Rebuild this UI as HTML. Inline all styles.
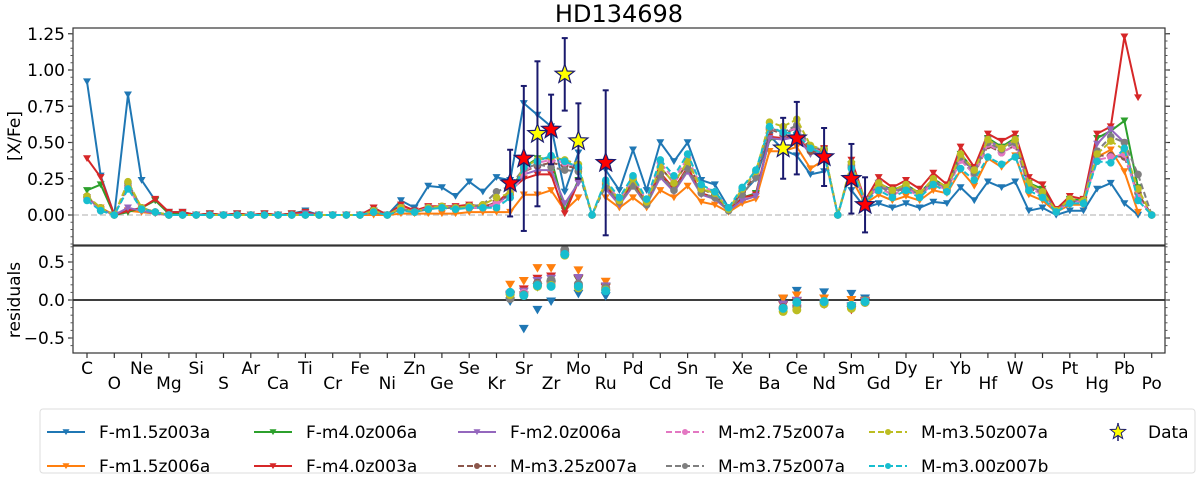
<!DOCTYPE html>
<html><head><meta charset="utf-8"><style>
html,body{margin:0;padding:0;background:#fff;}
svg{display:block;font-family:"DejaVu Sans","Liberation Sans",sans-serif;}
</style></head><body>
<svg id="chart" width="1200" height="478" viewBox="0 0 1200 478" xmlns="http://www.w3.org/2000/svg">
<text x="619" y="22" font-size="24" text-anchor="middle" fill="#000">HD134698</text>
<text transform="translate(20,136) rotate(-90)" font-size="17" text-anchor="middle">[X/Fe]</text>
<text transform="translate(20,300) rotate(-90)" font-size="17" text-anchor="middle">residuals</text>
<g id="top"></g>
<g id="bot"></g>
<g id="legend"></g>
</svg>
<script>
const elements = ["C","N","O","F","Ne","Na","Mg","Al","Si","P","S","Cl","Ar","K","Ca","Sc","Ti","V","Cr","Mn","Fe","Co","Ni","Cu","Zn","Ga","Ge","As","Se","Br","Kr","Rb","Sr","Y","Zr","Nb","Mo","Tc","Ru","Rh","Pd","Ag","Cd","In","Sn","Sb","Te","I","Xe","Cs","Ba","La","Ce","Pr","Nd","Pm","Sm","Eu","Gd","Tb","Dy","Ho","Er","Tm","Yb","Lu","Hf","Ta","W","Re","Os","Ir","Pt","Au","Hg","Tl","Pb","Bi","Po"];
const zStart = 6;
const seriesNames = ["F-m1.5z003a","F-m1.5z006a","F-m4.0z006a","F-m4.0z003a","F-m2.0z006a","M-m3.25z007a","M-m2.75z007a","M-m3.75z007a","M-m3.50z007a","M-m3.00z007b"];
const sBlue = [.92,.27,0,.83,.24,.10,.02,.02,0,.01, 0,.01,0,.01,0,.01,.03,0,0,0, 0,.05,0,.10,.05,.20,.19,.13,.23,.16, .26,.24,.77,.69,.61,.16,.43,null,.31,.17, .45,.17,.50,.37,.50,.24,.21,.05,.15,.25, .55,.45,.41,.28,.30,null,.17,.05,.08,.05, .08,.05,.09,.08,.19,.10,.23,.19,.23,.03, .05,0,.03,.03,.18,.22,.08,0,null];
const sOrange = [.12,.05,0,.03,.02,.01,0,0,0,0, 0,0,0,0,0,0,0,0,0,0, 0,0,0,.01,.01,.01,.01,.01,.02,.02, .02,.02,.14,.14,.17,.03,.12,null,.12,.05, .12,.05,.17,.12,.20,.09,.07,.02,.08,.11, .44,.44,.47,.32,.38,null,.25,.08,.14,.10, .13,.10,.17,.15,.31,.20,.39,.33,.41,.14, .10,.02,.07,.07,.40,.45,.30,.02,null];
const sGreen = [.17,.21,0,.02,.05,.10,.01,.01,0,.01, 0,.01,0,.01,0,.01,.02,0,0,0, 0,.03,0,.05,.02,.05,.05,.05,.06,.05, .08,.16,.33,.39,.39,.03,.24,null,.19,.08, .22,.07,.28,.18,.32,.15,.12,.03,.12,.15, .52,.53,.55,.42,.45,null,.35,.09,.22,.17, .21,.15,.25,.19,.42,.31,.53,.47,.53,.22, .18,.03,.11,.10,.53,.58,.65,.19,null];
const sRed = [.39,.26,0,.03,.05,.11,.02,.02,0,.01, 0,.01,0,.01,0,.01,.02,0,0,0, 0,.05,0,.07,.03,.06,.06,.06,.07,.06, .08,.17,.25,.28,.28,.01,.23,null,.20,.08, .22,.07,.29,.18,.33,.15,.12,.03,.12,.14, .54,.53,.55,.43,.46,null,.38,.10,.26,.19, .24,.18,.29,.21,.47,.33,.56,.51,.56,.26, .21,.04,.13,.11,.56,.61,1.23,.81,null];
const sPurple = [.12,.04,0,.05,.03,.01,0,0,0,0, 0,0,0,0,0,0,.01,0,0,0, 0,.02,0,.04,.02,.05,.05,.05,.05,.05, .07,.15,.28,.31,.31,.08,.22,null,.18,.07, .20,.07,.26,.16,.30,.14,.11,.03,.10,.13, .53,.52,.54,.42,.44,null,.33,.09,.22,.16, .20,.14,.24,.18,.40,.30,.52,.46,.52,.20, .16,.03,.10,.09,.49,.59,.50,.10,null];
const sBrown = [.12,.04,0,.20,.05,.02,0,0,0,0, 0,0,0,0,0,0,0,0,0,0, 0,.02,0,.04,.02,.05,.05,.05,.05,.05, .09,.14,.30,.34,.36,.34,.32,0,.22,.10, .24,.09,.33,.22,.36,.18,.14,.04,.16,.27, .59,.56,.60,.44,.43,0,.33,.10,.19,.14, .18,.13,.22,.17,.38,.28,.48,.43,.48,.19, .14,.02,.09,.09,.41,.41,.40,.15,0];
const sPink = [.11,.03,0,.19,.04,.02,0,0,0,0, 0,0,0,0,0,0,0,0,0,0, 0,.02,0,.05,.02,.05,.06,.05,.05,.05, .08,.12,.30,.36,.38,.36,.33,0,.23,.10, .26,.10,.36,.25,.39,.20,.16,.04,.18,.29, .60,.57,.60,.46,.43,0,.34,.10,.19,.14, .18,.13,.22,.17,.38,.28,.49,.43,.48,.19, .14,.02,.09,.09,.38,.40,.42,.12,0];
const sGray = [.13,.05,0,.22,.05,.02,0,0,0,0, 0,0,0,0,0,0,0,0,0,0, 0,.02,0,.04,.02,.04,.05,.05,.06,.07, .16,.20,.32,.35,.33,.31,.30,0,.20,.09, .20,.07,.28,.17,.32,.15,.12,.03,.14,.26, .60,.57,.62,.47,.45,0,.34,.10,.20,.15, .19,.14,.23,.18,.40,.29,.50,.45,.50,.20, .15,.03,.10,.10,.44,.54,.50,.28,0];
const sOlive = [.13,.05,0,.23,.05,.02,0,0,0,0, 0,0,0,0,0,0,0,0,0,0, 0,.03,0,.05,.02,.05,.06,.05,.06,.07, .12,.15,.33,.38,.40,.38,.35,0,.23,.10, .25,.09,.33,.22,.37,.18,.15,.04,.18,.30, .64,.61,.66,.48,.45,0,.36,.10,.22,.17, .21,.15,.25,.19,.42,.31,.52,.46,.52,.22, .16,.03,.11,.10,.42,.51,.45,.18,0];
const sCyan = [.10,.03,0,.18,.04,.02,0,0,0,0, 0,0,0,0,0,0,0,0,0,0, 0,.02,0,.03,.02,.04,.05,.04,.05,.05, .05,.12,.33,.37,.41,.37,.33,0,.24,.12, .27,.11,.38,.27,.42,.21,.16,.05,.19,.31, .61,.57,.56,.46,.42,0,.32,.09,.17,.12, .17,.12,.21,.16,.32,.24,.40,.35,.40,.17, .12,.02,.08,.08,.37,.36,.46,.10,0];
const dataElements = ["Rb","Sr","Y","Zr","Nb","Mo","Ru","La","Ce","Nd","Sm","Eu"];
const dataValues = [0.22,0.39,0.56,0.59,0.97,0.51,0.36,0.46,0.53,0.40,0.25,0.07];
const dataErrors = [0.23,0.50,0.50,0.24,0.25,0.26,0.50,0.21,0.25,0.20,0.24,0.19];
const dataYellow = [false,false,true,false,true,true,false,true,false,false,false,false];
const topTicks = [0,0.25,0.5,0.75,1.0,1.25];
const topTickLabels = ["0.00","0.25","0.50","0.75","1.00","1.25"];
const resTicks = [-0.5,0,0.5];
const resTickLabels = ["\u22120.5","0.0","0.5"];

const NS="http://www.w3.org/2000/svg";
const colors=["#1f77b4","#ff7f0e","#2ca02c","#d62728","#9467bd","#8c564b","#e377c2","#7f7f7f","#bcbd22","#17becf"];
const allSeries=[sBlue,sOrange,sGreen,sRed,sPurple,sBrown,sPink,sGray,sOlive,sCyan];
const L=73,R=1165,T1=28,B1=245,T2=246,B2=353;
function xs(z){return 87+(z-6)*13.65;}
function yT(v){return 215-v*145;}
function yR(v){return 300-v*76;}
function mk(tag,attrs,parent){const e=document.createElementNS(NS,tag);for(const k in attrs)e.setAttribute(k,attrs[k]);parent.appendChild(e);return e;}
function tri(x,y,s){return `${x-s},${y-s*0.8} ${x+s},${y-s*0.8} ${x},${y+s*0.9}`;}
function star(cx,cy,r){let p=[];for(let i=0;i<10;i++){const a=-Math.PI/2+i*Math.PI/5;const rr=i%2?r*0.42:r;p.push((cx+rr*Math.cos(a)).toFixed(1)+","+(cy+rr*Math.sin(a)).toFixed(1));}return p.join(" ");}

const panelTop=document.getElementById('top'), panelBot=document.getElementById('bot'), legendG=document.getElementById('legend');
const defs=mk('defs',{},document.getElementById('chart'));
const c1=mk('clipPath',{id:'c1'},defs);mk('rect',{x:L,y:T1,width:R-L,height:B1-T1},c1);
const c2=mk('clipPath',{id:'c2'},defs);mk('rect',{x:L,y:T2,width:R-L,height:B2-T2},c2);

let zl=mk('line',{x1:L,x2:R,y1:yT(0),y2:yT(0),stroke:"#c8c8c8","stroke-width":1.5,"stroke-dasharray":"6,3"},panelTop);


let zl2=mk('line',{x1:L,x2:R,y1:yR(0),y2:yR(0),stroke:"#222","stroke-width":1.8},panelBot);



const gTop=mk('g',{'clip-path':'url(#c1)'},panelTop);
allSeries.forEach((s,si)=>{
  const isM=si>=5;
  const g=mk('g',{},gTop);
  
  
  let segs=[],cur=[];
  s.forEach((v,i)=>{if(v===null){if(cur.length)segs.push(cur);cur=[];}else cur.push([xs(zStart+i),yT(v)]);});
  if(cur.length)segs.push(cur);
  segs.forEach(sg=>{
    const pl=mk('polyline',{points:sg.map(p=>p[0].toFixed(1)+","+p[1].toFixed(1)).join(" "),fill:"none",stroke:colors[si],"stroke-width":2,"stroke-linejoin":"round"},g);
    if(isM)pl.setAttribute('stroke-dasharray','6,3');
  });
  s.forEach((v,i)=>{
    if(v===null)return;
    const x=xs(zStart+i),y=yT(v);
    let m;
    if(isM)m=mk('circle',{cx:x,cy:y,r:3.8,fill:colors[si]},g);
    else m=mk('polygon',{points:tri(x,y,4),fill:colors[si]},g);
    
    
  });
});
const gData=mk('g',{},panelTop);


dataElements.forEach((el,k)=>{
  const z=zStart+elements.indexOf(el),x=xs(z),v=dataValues[k],e=dataErrors[k];
  const eb=mk('g',{stroke:"#1a1a6e","stroke-width":2},gData);
  
  
  mk('line',{x1:x,x2:x,y1:yT(v-e),y2:yT(v+e)},eb);
  mk('line',{x1:x-3,x2:x+3,y1:yT(v-e),y2:yT(v-e)},eb);
  mk('line',{x1:x-3,x2:x+3,y1:yT(v+e),y2:yT(v+e)},eb);
  const st=mk('polygon',{points:star(x,yT(v),10),fill:dataYellow[k]?"#ffff00":"#ff0000",stroke:"#1a1a6e","stroke-width":1.2},gData);
  
  
});
const gRes=mk('g',{'clip-path':'url(#c2)'},panelBot);
allSeries.forEach((s,si)=>{
  const isM=si>=5;
  dataElements.forEach((el,k)=>{
    const i=elements.indexOf(el),v=s[i];
    if(v===null)return;
    const r=dataValues[k]-v;
    const x=xs(zStart+i),y=yR(r);
    let m;
    if(isM)m=mk('circle',{cx:x,cy:y,r:4.5,fill:colors[si]},gRes);
    else m=mk('polygon',{points:tri(x,y,5),fill:colors[si]},gRes);
    
    
  });
});
[[T1,B1,panelTop],[T2,B2,panelBot]].forEach(([t,b,p])=>{
  const f=mk('rect',{x:L,y:t,width:R-L,height:b-t,fill:"none",stroke:"#333","stroke-width":1.2},p);
  
  
});
topTicks.forEach((v,k)=>{
  const y=yT(v);
  mk('line',{x1:L-5,x2:L,y1:y,y2:y,stroke:"#333","stroke-width":1.2},panelTop);
  mk('line',{x1:R,x2:R+5,y1:y,y2:y,stroke:"#333","stroke-width":1.2},panelTop);
  const t=mk('text',{x:L-8,y:y+6,"font-size":17,"text-anchor":"end"},panelTop);t.textContent=topTickLabels[k];
  
  
});
for(let v=-0.2;v<=1.28;v+=0.05){const y=yT(v);if(y<T1||y>B1)continue;mk('line',{x1:L-2.5,x2:L,y1:y,y2:y,stroke:"#555"},panelTop);mk('line',{x1:R,x2:R+2.5,y1:y,y2:y,stroke:"#555"},panelTop);}
resTicks.forEach((v,k)=>{
  const y=yR(v);
  mk('line',{x1:L-5,x2:L,y1:y,y2:y,stroke:"#333","stroke-width":1.2},panelBot);
  mk('line',{x1:R,x2:R+5,y1:y,y2:y,stroke:"#333","stroke-width":1.2},panelBot);
  const t=mk('text',{x:L-8,y:y+6,"font-size":17,"text-anchor":"end"},panelBot);t.textContent=resTickLabels[k];
  
  
});
for(let v=-0.7;v<=0.7;v+=0.1){const y=yR(v);if(y<T2||y>B2)continue;mk('line',{x1:L-2.5,x2:L,y1:y,y2:y,stroke:"#555"},panelBot);mk('line',{x1:R,x2:R+2.5,y1:y,y2:y,stroke:"#555"},panelBot);}
for(let i=0;i<elements.length;i+=2){
  const x=xs(zStart+i);
  mk('line',{x1:x,x2:x,y1:B2,y2:B2+5,stroke:"#333","stroke-width":1.2},panelBot);
  const t=mk('text',{x:x,y:(i/2)%2===0?374:389,"font-size":17,"text-anchor":"middle"},panelBot);
  t.textContent=elements[i];
  
  
}
const lb=mk('rect',{x:40,y:409,width:1155,height:64,rx:3,fill:"#fff",stroke:"#ddd","stroke-width":1},legendG);


const colX=[47,254,458,666,869];
seriesNames.forEach((n,si)=>{
  const col=Math.floor(si/2),row=si%2,x=colX[col],y=row?466:432;
  const g=mk('g',{},legendG);
  
  
  const ln=mk('line',{x1:x,x2:x+38,y1:y,y2:y,stroke:colors[si],"stroke-width":2},g);
  if(si>=5){ln.setAttribute('stroke-dasharray','6,3');mk('circle',{cx:x+19,cy:y,r:3,fill:colors[si]},g);}
  else mk('polygon',{points:tri(x+19,y,3.5),fill:colors[si]},g);
  const t=mk('text',{x:x+52,y:y+6,"font-size":17},g);t.textContent=n;
});
const gd=mk('g',{},legendG);


mk('line',{x1:1118,x2:1118,y1:423,y2:441,stroke:"#1a1a6e","stroke-width":1.5},gd);
mk('polygon',{points:star(1118,432,8),fill:"#ffff00",stroke:"#1a1a6e","stroke-width":1},gd);
const dt=mk('text',{x:1148,y:438,"font-size":17},gd);dt.textContent="Data";
</script>
</body></html>
